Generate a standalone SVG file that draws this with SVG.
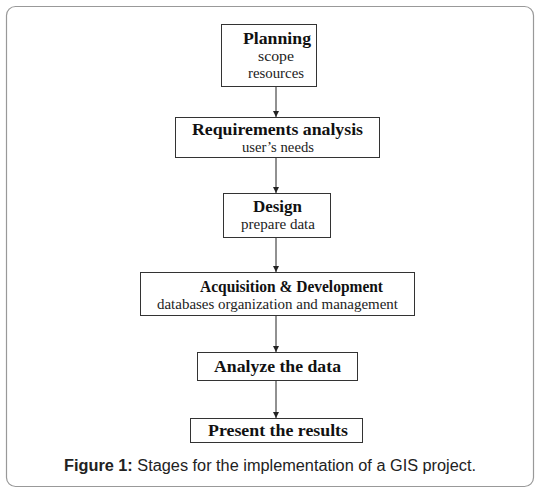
<svg xmlns="http://www.w3.org/2000/svg" width="540" height="493" viewBox="0 0 540 493">
<defs>
<marker id="ah" viewBox="0 0 6 6" refX="6" refY="3" markerWidth="6" markerHeight="6" orient="auto" markerUnits="userSpaceOnUse">
<path d="M0,0 L6,3 L0,6 z" fill="#222"/>
</marker>
<style>
.box{fill:#fff;stroke:#333;stroke-width:1}
.t{font-family:"Liberation Serif","Times New Roman",serif;font-weight:bold;font-size:17px;fill:#111;text-anchor:middle}
.s{font-family:"Liberation Serif","Times New Roman",serif;font-size:14px;fill:#222;text-anchor:middle}
.c{stroke:#222;stroke-width:1;fill:none;marker-end:url(#ah)}
.cap{font-family:"Liberation Sans",Arial,sans-serif;font-size:16px;fill:#222;text-anchor:middle}
</style>
</defs>
<rect x="6.5" y="6.5" width="527" height="480" rx="9" fill="#fff" stroke="#999" stroke-width="1.2"/>
<g id="connectors">
<line class="c" x1="276" y1="87" x2="276" y2="117"/>
<line class="c" x1="276" y1="158" x2="276" y2="193"/>
<line class="c" x1="276" y1="238" x2="276" y2="272"/>
<line class="c" x1="276" y1="316" x2="276" y2="352"/>
<line class="c" x1="276" y1="381" x2="276" y2="418"/>
</g>
<g id="planning">
<rect class="box" x="221.5" y="24.5" width="95" height="62"/>
<text class="t" x="277" y="44" textLength="68" lengthAdjust="spacingAndGlyphs">Planning</text>
<text class="s" x="276" y="61" textLength="36" lengthAdjust="spacingAndGlyphs">scope</text>
<text class="s" x="276" y="78" textLength="56" lengthAdjust="spacingAndGlyphs">resources</text>
</g>
<g id="requirements">
<rect class="box" x="175.5" y="117.5" width="204" height="40"/>
<text class="t" x="277.5" y="135" textLength="171" lengthAdjust="spacingAndGlyphs">Requirements analysis</text>
<text class="s" x="278" y="152" textLength="72" lengthAdjust="spacingAndGlyphs">user’s needs</text>
</g>
<g id="design">
<rect class="box" x="223.5" y="193.5" width="107" height="44"/>
<text class="t" x="277.5" y="212" textLength="49" lengthAdjust="spacingAndGlyphs">Design</text>
<text class="s" x="278" y="229" textLength="74" lengthAdjust="spacingAndGlyphs">prepare data</text>
</g>
<g id="acquisition">
<rect class="box" x="140.5" y="272.5" width="274" height="43"/>
<text class="t" x="291.5" y="292" textLength="183" lengthAdjust="spacingAndGlyphs">Acquisition &amp; Development</text>
<text class="s" x="277.5" y="309" textLength="241" lengthAdjust="spacingAndGlyphs">databases organization and management</text>
</g>
<g id="analyze">
<rect class="box" x="197.5" y="352.5" width="160" height="28"/>
<text class="t" x="277.5" y="372" textLength="127" lengthAdjust="spacingAndGlyphs">Analyze the data</text>
</g>
<g id="present">
<rect class="box" x="190.5" y="418.5" width="172" height="24"/>
<text class="t" x="278" y="436" textLength="140" lengthAdjust="spacingAndGlyphs">Present the results</text>
</g>
<text class="cap" x="270" y="471" textLength="412" lengthAdjust="spacingAndGlyphs"><tspan font-weight="bold">Figure 1:</tspan> Stages for the implementation of a GIS project.</text>
</svg>
